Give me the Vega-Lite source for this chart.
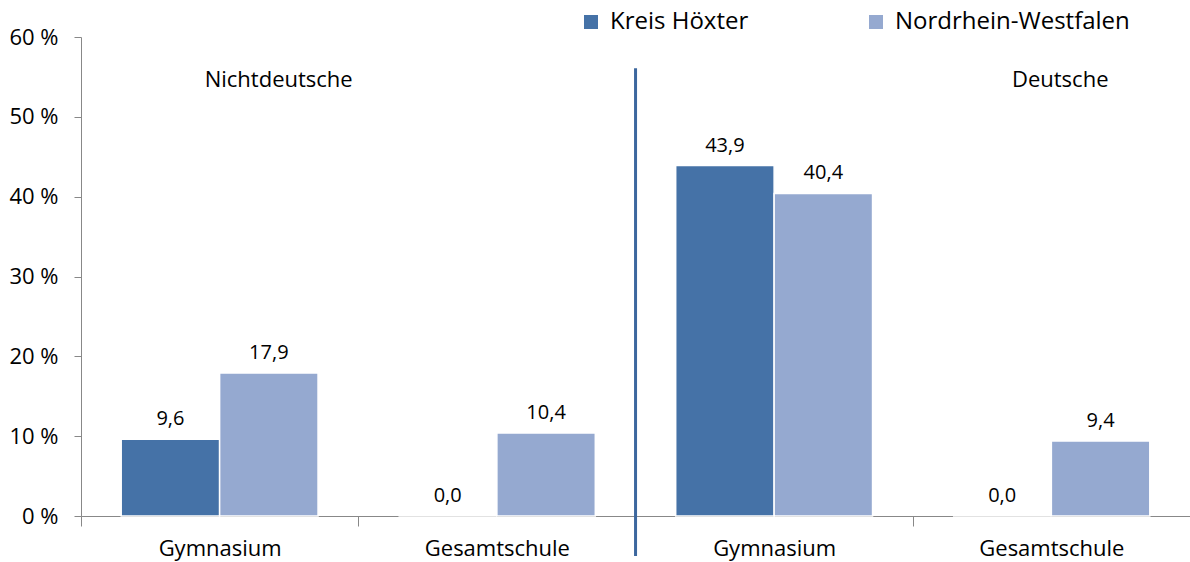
{
  "$schema": "https://vega.github.io/schema/vega-lite/v6.json",
  "width": 1109,
  "height": 479,
  "autosize": {"type": "none"},
  "padding": {"left": 81, "top": 37, "right": 0, "bottom": 46},
  "config": {
    "view": {"stroke": null},
    "font": "Open Sans",
    "locale": {"number": {"decimal": ",", "thousands": ".", "grouping": [3], "currency": ["", " €"]}}
  },
  "data": {
    "values": [
      {"cat": "N-Gymnasium", "region": "Kreis Höxter", "value": 9.6},
      {"cat": "N-Gymnasium", "region": "Nordrhein-Westfalen", "value": 17.9},
      {"cat": "N-Gesamtschule", "region": "Kreis Höxter", "value": 0.0},
      {"cat": "N-Gesamtschule", "region": "Nordrhein-Westfalen", "value": 10.4},
      {"cat": "D-Gymnasium", "region": "Kreis Höxter", "value": 43.9},
      {"cat": "D-Gymnasium", "region": "Nordrhein-Westfalen", "value": 40.4},
      {"cat": "D-Gesamtschule", "region": "Kreis Höxter", "value": 0.0},
      {"cat": "D-Gesamtschule", "region": "Nordrhein-Westfalen", "value": 9.4}
    ]
  },
  "layer": [
    {
      "mark": {"type": "bar", "stroke": "white", "strokeWidth": 1.5},
      "encoding": {
        "x": {
          "field": "cat",
          "type": "nominal",
          "sort": ["N-Gymnasium", "N-Gesamtschule", "D-Gymnasium", "D-Gesamtschule"],
          "scale": {"paddingInner": 0.29, "paddingOuter": 0.145},
          "axis": {
            "title": null,
            "labelExpr": "slice(datum.label, 2)",
            "labelAngle": 0,
            "tickOffset": -138.6,
            "labelOffset": 138.6,
            "tickSize": 10,
            "tickColor": "#888888",
            "domainColor": "#888888",
            "labelPadding": 12,
            "labelFontSize": 22,
            "labelColor": "#000000"
          }
        },
        "xOffset": {"field": "region", "type": "nominal", "sort": ["Kreis Höxter", "Nordrhein-Westfalen"]},
        "y": {
          "field": "value",
          "type": "quantitative",
          "scale": {"domain": [0, 60]},
          "axis": {
            "title": null,
            "values": [0, 10, 20, 30, 40, 50, 60],
            "labelExpr": "datum.value + ' %'",
            "grid": false,
            "tickSize": 7,
            "tickColor": "#888888",
            "domainColor": "#888888",
            "labelPadding": 16,
            "labelFontSize": 22,
            "labelColor": "#000000"
          }
        },
        "color": {
          "field": "region",
          "type": "nominal",
          "scale": {"domain": ["Kreis Höxter", "Nordrhein-Westfalen"], "range": ["#4572A7", "#95A9D0"]},
          "legend": {
            "title": null,
            "orient": "none",
            "legendX": 498,
            "legendY": -27,
            "direction": "horizontal",
            "symbolType": "square",
            "symbolSize": 196,
            "symbolStrokeWidth": 0,
            "symbolOpacity": 1,
            "labelFontSize": 24,
            "labelColor": "#000000",
            "labelOffset": 7,
            "columnPadding": 115,
            "labelLimit": 400
          }
        }
      }
    },
    {
      "mark": {"type": "text", "baseline": "bottom", "dy": -10, "fontSize": 20, "color": "#000000"},
      "encoding": {
        "x": {"field": "cat", "type": "nominal", "sort": ["N-Gymnasium", "N-Gesamtschule", "D-Gymnasium", "D-Gesamtschule"]},
        "xOffset": {"field": "region", "type": "nominal", "sort": ["Kreis Höxter", "Nordrhein-Westfalen"]},
        "y": {"field": "value", "type": "quantitative"},
        "text": {"field": "value", "type": "quantitative", "format": ".1f"}
      }
    },
    {
      "data": {"values": [{"cat": "D-Gymnasium", "top": 56.1, "bottom": -5}]},
      "mark": {"type": "rule", "color": "#3C679E", "strokeWidth": 3},
      "encoding": {
        "x": {"field": "cat", "type": "nominal", "sort": ["N-Gymnasium", "N-Gesamtschule", "D-Gymnasium", "D-Gesamtschule"], "bandPosition": -0.204},
        "y": {"field": "top", "type": "quantitative"},
        "y2": {"field": "bottom"}
      }
    },
    {
      "data": {"values": [{"cat": "N-Gymnasium", "t": "Nichtdeutsche", "pos": 54.6}]},
      "mark": {"type": "text", "fontSize": 22, "align": "center", "baseline": "middle", "color": "#000000"},
      "encoding": {
        "x": {"field": "cat", "type": "nominal", "sort": ["N-Gymnasium", "N-Gesamtschule", "D-Gymnasium", "D-Gesamtschule"], "bandPosition": 0.8},
        "y": {"field": "pos", "type": "quantitative"},
        "text": {"field": "t"}
      }
    },
    {
      "data": {"values": [{"cat": "D-Gesamtschule", "t": "Deutsche", "pos": 54.6}]},
      "mark": {"type": "text", "fontSize": 22, "align": "center", "baseline": "middle", "color": "#000000"},
      "encoding": {
        "x": {"field": "cat", "type": "nominal", "sort": ["N-Gymnasium", "N-Gesamtschule", "D-Gymnasium", "D-Gesamtschule"], "bandPosition": 0.545},
        "y": {"field": "pos", "type": "quantitative"},
        "text": {"field": "t"}
      }
    }
  ]
}
